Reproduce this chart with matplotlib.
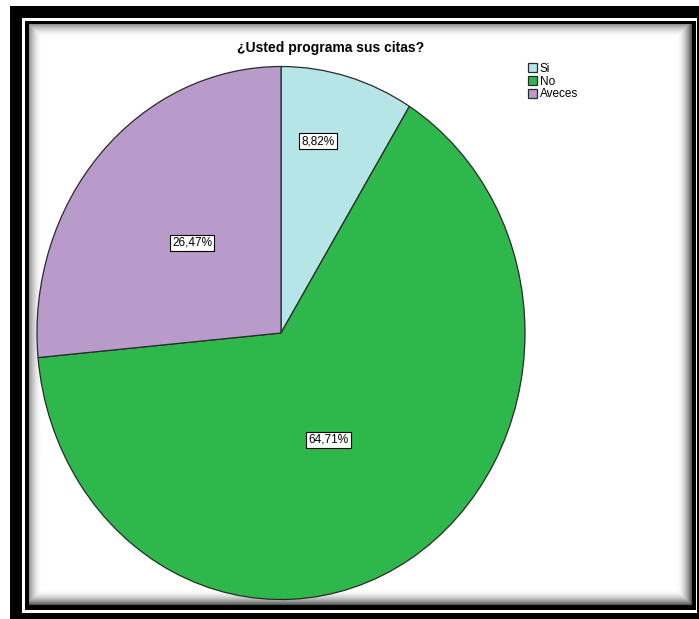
import numpy as np
import matplotlib
matplotlib.use('Agg')
import matplotlib.pyplot as plt

plt.rcParams['font.family'] = ['Liberation Sans', 'DejaVu Sans']

title = '¿Usted programa sus citas?'
categories = ['Si', 'No', 'Aveces']
percentages = [8.82, 64.71, 26.47]
colors = ['#b5e5e6', '#2eb84b', '#b89bcb']

W, H = 699, 619
fig = plt.figure(figsize=(W / 100, H / 100), dpi=100)
fig.patch.set_facecolor('white')

# Decorative double frame with an inner shadow, drawn as a pixel image
bg = fig.add_axes([0, 0, 1, 1], zorder=0)
bg.axis('off')
yy, xx = np.mgrid[0:H, 0:W] + 0.5
img = np.ones((H, W))
img[(xx >= 10) & (yy >= 6)] = 0
img[(xx >= 22) & (yy >= 18) & (xx < 697) & (yy < 613)] = 1
img[(xx >= 25) & (yy >= 21) & (xx < 696) & (yy < 610)] = 0
inner = (xx >= 29) & (yy >= 24) & (xx < 692) & (yy < 605)


def fade(d, a, w):
    t = np.clip(1 - d / w, 0, 1)
    return a * t ** 2


shade = np.maximum.reduce([
    fade(xx - 29, 0.45, 14), fade(yy - 24, 0.45, 14),
    fade(692 - xx, 0.7, 16), fade(605 - yy, 0.7, 16),
])
img[inner] = (1 - shade)[inner]
bg.imshow(img, cmap='gray', vmin=0, vmax=1, extent=(0, W, H, 0),
          interpolation='nearest', aspect='auto')

# Pie (stretched to an ellipse)
cx, cy, rx, ry = 281, 333, 244, 266.5
ax = fig.add_axes([(cx - rx) / W, (H - cy - ry) / H, 2 * rx / W, 2 * ry / H], zorder=2)
wedges, _ = ax.pie(percentages, colors=colors, startangle=90, counterclock=False,
                   wedgeprops=dict(edgecolor='#2a2a2a', linewidth=0.9))
for w in wedges:
    w.set_clip_on(False)
ax.set_aspect('auto')
ax.set_xlim(-1, 1)
ax.set_ylim(-1, 1)

label_pos = [(0.152, 0.720), (0.193, -0.401), (-0.365, 0.338)]
for p, (x, y) in zip(percentages, label_pos):
    ax.text(x, y, f'{p:.2f}%'.replace('.', ','), ha='center', va='center', fontsize=8.5,
            bbox=dict(boxstyle='square,pad=0.2', fc='white', ec='black', lw=0.8))

fig.text(331 / W, 1 - 48 / H, title, ha='center', va='center',
         fontsize=10, fontweight='bold')

fig.legend(wedges, categories, loc='upper left', bbox_to_anchor=(528 / W, 1 - 63 / H),
           frameon=False, fontsize=8.5, handlelength=0.8, handleheight=0.8,
           handletextpad=0.2, labelspacing=0.05, borderpad=0, borderaxespad=0)

fig.savefig('out.png', dpi=100)
